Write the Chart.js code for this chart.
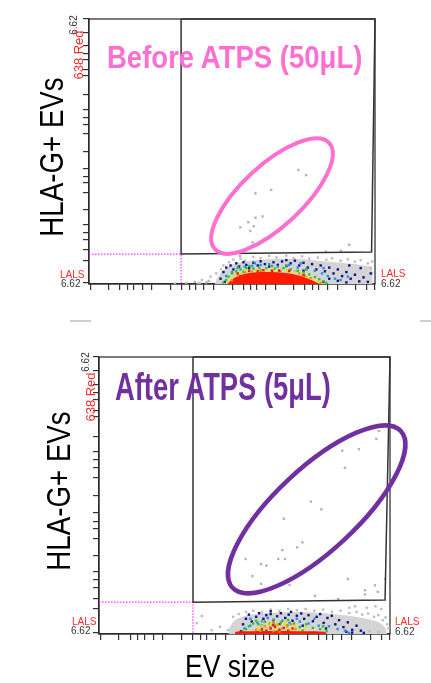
<!DOCTYPE html>
<html>
<head>
<meta charset="utf-8">
<script src="https://cdn.jsdelivr.net/npm/chart.js@4.4.1/dist/chart.umd.min.js"></script>
<style>
  body { margin: 0; background: #fff; }
  #page { position: relative; width: 431px; height: 683px; overflow: hidden; background: #fff; }
  canvas { position: absolute; left: 0; }
  .lbl { position: absolute; white-space: nowrap; line-height: 1; font-family: 'Liberation Sans', Arial, sans-serif; }
  .rot { transform: translate(-50%, -50%) rotate(-90deg); }
  .ytitle { font-size: 33px; color: #000; transform: translate(-50%, -50%) rotate(-90deg) scaleX(0.84); }
  .title { font-weight: bold; transform-origin: left top; }
  .red { color: #ff2a2a; }
  .dark { color: #333; }
  .rule { position: absolute; height: 2px; background: #cfcfcf; }
</style>
</head>
<body>
<div id="page">
  <canvas id="top-chart" width="431" height="310" style="top:0px"></canvas>
  <canvas id="bottom-chart" width="431" height="353" style="top:330px"></canvas>

  <!-- top panel text -->
  <div class="lbl title" style="left:107px; top:41px; font-size:32px; color:#ff6fd0; transform:scaleX(0.86);">Before ATPS (50μL)</div>
  <div class="lbl ytitle" style="left:51px; top:157px;">HLA-G+ EVs</div>
  <div class="lbl rot dark" style="left:74px; top:25px; font-size:10px;">6.62</div>
  <div class="lbl rot red" style="left:78px; top:55px; font-size:13px;">638 Red</div>
  <div class="lbl red" style="left:60px; top:270px; font-size:10px;">LALS</div>
  <div class="lbl dark" style="left:61px; top:279px; font-size:10px;">6.62</div>
  <div class="lbl red" style="left:381px; top:269px; font-size:10px;">LALS</div>
  <div class="lbl dark" style="left:381px; top:279px; font-size:10px;">6.62</div>

  <div class="rule" style="left:70px; top:320px; width:21px;"></div>
  <div class="rule" style="left:420px; top:320px; width:11px;"></div>

  <!-- bottom panel text -->
  <div class="lbl title" style="left:115px; top:368px; font-size:38px; color:#7030a0; transform:scaleX(0.72);">After ATPS (5μL)</div>
  <div class="lbl ytitle" style="left:58px; top:491px;">HLA-G+ EVs</div>
  <div class="lbl rot dark" style="left:86px; top:362px; font-size:10px;">6.62</div>
  <div class="lbl rot red" style="left:90px; top:397px; font-size:13px;">638 Red</div>
  <div class="lbl red" style="left:72px; top:617px; font-size:10px;">LALS</div>
  <div class="lbl dark" style="left:71px; top:626px; font-size:10px;">6.62</div>
  <div class="lbl red" style="left:395px; top:617px; font-size:10px;">LALS</div>
  <div class="lbl dark" style="left:395px; top:627px; font-size:10px;">6.62</div>
  <div class="lbl" style="left:230px; top:650px; font-size:32px; color:#000; transform:translateX(-50%) scaleX(0.83);">EV size</div>
</div>

<script>
// axis tick positions (instrument channel units, 0-1000 on both axes)
const xTicks = [4, 69, 107, 134, 155, 186, 220, 285, 323, 350, 371, 402, 436, 501, 539, 566, 587, 618, 652, 717, 755, 782, 803, 834, 868, 933, 971, 998];
const yTicks = [5, 90, 128, 166, 195, 224, 282, 345, 381, 405, 437, 500, 566, 600, 628, 657, 713, 785, 808, 845, 870, 900, 950, 1000];

// ---- BEFORE ATPS (50uL) ----
const topGate = [[322, 1000], [322, 113], [988, 121], [1000, 1000], [322, 1000]];
const topThreshold = [[0, 113], [322, 113], [322, 0]];
const topEllipseCenter = [640, 332];
const topSparse = [[732, 430], [759, 411], [582, 342], [637, 355], [582, 250], [607, 255], [557, 233], [576, 218], [529, 214], [564, 200], [572, 157], [828, 122], [881, 125], [910, 148], [528, 106]];
const topGrayCloud = [[440, 0], [450, 25], [468, 50], [490, 68], [520, 80], [560, 88], [620, 92], [680, 95], [740, 93], [800, 88], [860, 82], [920, 76], [960, 70], [992, 62], [992, 0]];
const topGray = [[300, 2], [340, 4], [370, 8], [380, 3], [388, 4], [395, 15], [410, 6], [413, 8], [420, 12], [425, 28], [445, 40], [462, 55], [470, 70], [490, 82], [505, 92], [530, 96], [545, 88], [575, 102], [600, 98], [630, 106], [655, 100], [690, 107], [715, 98], [745, 104], [770, 96], [800, 100], [830, 92], [850, 97], [880, 88], [905, 93], [930, 84], [950, 90], [975, 78], [990, 85], [985, 60], [990, 40]];
const topNavy = [[460, 20], [470, 45], [480, 62], [495, 70], [505, 55], [515, 78], [525, 66], [540, 82], [550, 72], [560, 60], [575, 80], [590, 70], [600, 86], [615, 75], [630, 66], [645, 82], [660, 72], [675, 85], [690, 68], [705, 78], [720, 88], [735, 70], [750, 80], [765, 62], [780, 75], [795, 55], [810, 70], [825, 48], [840, 62], [855, 40], [870, 55], [885, 30], [900, 45], [915, 20], [930, 35], [945, 10], [960, 25], [975, 8], [985, 40], [870, 12], [900, 6], [840, 20], [820, 8], [750, 50], [690, 90], [530, 30], [475, 8], [950, 60], [910, 70]];
const topBlue = [[480, 30], [500, 45], [520, 60], [545, 65], [570, 68], [600, 72], [630, 75], [660, 66], [700, 72], [730, 62], [760, 55], [790, 50], [815, 40], [835, 30], [860, 20], [880, 15], [905, 28], [820, 60], [580, 78], [740, 78]];
const topGreen = [[470, 5], [480, 15], [488, 28], [500, 40], [515, 48], [530, 55], [550, 60], [575, 58], [595, 62], [620, 60], [650, 58], [680, 60], [705, 55], [730, 50], [750, 44], [770, 36], [790, 26], [805, 18], [820, 10], [830, 4], [520, 64], [640, 68], [690, 70], [760, 56], [560, 68], [600, 52], [665, 52], [720, 46], [540, 46]];
const topYellow = [[485, 8], [495, 22], [510, 30], [530, 40], [555, 48], [585, 52], [615, 54], [655, 53], [690, 50], [720, 44], [745, 38], [765, 28], [785, 18], [800, 8], [630, 48], [700, 44]];
const topOrange = [[500, 14], [520, 34], [545, 44], [600, 50], [640, 52], [700, 48], [735, 40], [775, 22], [810, 4], [570, 46], [670, 47], [755, 30]];
const topRedCloud = [[484, 0], [497, 14], [514, 26], [537, 36], [567, 42], [610, 45], [660, 44], [700, 40], [730, 33], [757, 24], [780, 14], [798, 5], [808, 0]];
const topRed = [[560, 50], [610, 52], [665, 50], [700, 50], [520, 40], [750, 34], [590, 48], [640, 49]];

// ---- AFTER ATPS (5uL) ----
const botGate = [[323, 1000], [323, 115], [983, 123], [1000, 1000], [323, 1000]];
const botThreshold = [[0, 115], [323, 115], [323, 0]];
const botEllipseCenter = [748, 450];
const botSparse = [[962, 733], [953, 704], [836, 662], [893, 667], [845, 600], [728, 478], [764, 450], [635, 416], [699, 331], [681, 313], [630, 303], [504, 271], [616, 271], [639, 271], [557, 252], [575, 247], [527, 209], [557, 181], [655, 177], [855, 199], [948, 176], [914, 158], [958, 152], [914, 143], [742, 138], [822, 126], [983, 199]];
const botGrayCloud = [[445, 0], [450, 25], [470, 52], [500, 65], [540, 72], [600, 77], [680, 79], [750, 77], [820, 70], [880, 62], [930, 52], [965, 40], [985, 20], [990, 0]];
const botGray = [[336, 39], [353, 65], [387, 14], [416, 26], [443, 14], [461, 62], [480, 72], [505, 80], [530, 84], [560, 78], [590, 88], [620, 84], [650, 90], [680, 86], [710, 90], [740, 84], [770, 88], [800, 80], [830, 84], [860, 76], [885, 80], [905, 70], [925, 74], [945, 62], [960, 68], [975, 50], [985, 60], [990, 35], [995, 20], [970, 90], [950, 100], [920, 95], [880, 100], [860, 95], [930, 10], [960, 8]];
const botNavy = [[488, 10], [495, 35], [505, 55], [515, 70], [525, 45], [540, 62], [550, 75], [565, 55], [575, 68], [590, 72], [600, 50], [612, 64], [625, 75], [640, 58], [652, 70], [665, 48], [680, 66], [695, 74], [705, 55], [720, 68], [735, 46], [748, 62], [760, 72], [772, 40], [785, 58], [800, 66], [812, 35], [825, 50], [840, 25], [855, 42], [870, 15], [885, 30], [870, 5], [850, 8], [700, 30], [620, 35], [560, 30], [780, 20], [900, 12], [910, 4], [660, 80], [590, 82]];
const botBlue = [[492, 5], [500, 20], [520, 30], [545, 40], [570, 45], [600, 40], [630, 48], [655, 40], [690, 45], [720, 38], [755, 30], [790, 28], [820, 18], [845, 12], [860, 4], [740, 55], [680, 55], [580, 58], [520, 55]];
const botGreen = [[495, 8], [505, 18], [515, 28], [530, 38], [548, 35], [560, 46], [585, 38], [605, 30], [625, 42], [648, 32], [670, 38], [690, 25], [712, 35], [735, 22], [760, 18], [782, 10], [770, 28], [650, 50], [600, 52], [540, 48], [700, 12], [745, 5], [560, 10], [620, 15]];
const botYellow = [[530, 8], [545, 22], [560, 30], [575, 20], [590, 35], [605, 18], [620, 28], [635, 38], [648, 22], [660, 12], [672, 28], [690, 15], [710, 22], [580, 42], [640, 45]];
const botOrange = [[540, 15], [555, 12], [570, 28], [588, 25], [600, 10], [615, 35], [630, 20], [645, 28], [660, 35], [675, 18], [600, 40], [620, 8]];
const botRedCloud = [[467, 0], [470, 8], [500, 10], [600, 11], [700, 10], [775, 8], [783, 0]];
const botRed = [[560, 18], [575, 12], [590, 20], [605, 25], [620, 15], [635, 22], [650, 12], [598, 32], [612, 8], [665, 20]];

// draws the oval gate around the positive events
const ellipsePlugin = {
    id: 'gateEllipse',
    afterDatasetsDraw(chart, args, opts) {
        const { ctx, scales } = chart;
        const cx = scales.x.getPixelForValue(opts.center[0]);
        const cy = scales.y.getPixelForValue(opts.center[1]);
        ctx.save();
        ctx.beginPath();
        ctx.ellipse(cx, cy, opts.rx, opts.ry, -opts.angle * Math.PI / 180, 0, Math.PI * 2);
        ctx.strokeStyle = opts.color;
        ctx.lineWidth = opts.width;
        ctx.stroke();
        ctx.restore();
    }
};

// box around the plot area
const framePlugin = {
    id: 'plotFrame',
    beforeDatasetsDraw(chart) {
        const { ctx, chartArea: a } = chart;
        ctx.save();
        ctx.strokeStyle = '#333';
        ctx.lineWidth = 1.3;
        ctx.strokeRect(a.left, a.top, a.right - a.left, a.bottom - a.top);
        ctx.restore();
    }
};

const dots = (data, color, order) => ({
    type: 'scatter', data, order,
    pointStyle: 'rect', pointRadius: 1.7, pointBorderWidth: 0,
    pointBackgroundColor: color, backgroundColor: color, borderColor: color
});

const area = (data, color, order) => ({
    type: 'line', data, order, fill: 'origin', tension: 0.3,
    backgroundColor: color, borderWidth: 0, pointRadius: 0
});

const line = (data, color, width, dash, order) => ({
    type: 'line', data, order, fill: false, tension: 0, clip: 4,
    borderColor: color, borderWidth: width, borderDash: dash, pointRadius: 0
});

const axis = (ticks) => ({
    type: 'linear', min: 0, max: 1000,
    afterBuildTicks: (scale) => { scale.ticks = ticks.map(v => ({ value: v })); },
    ticks: { display: false },
    grid: { drawOnChartArea: false, drawTicks: true, tickLength: 6, color: '#333', lineWidth: 1.2 },
    border: { color: '#222', width: 1.3 }
});

function drawPanel(id, p) {
    new Chart(document.getElementById(id).getContext('2d'), {
        type: 'scatter',
        data: {
            datasets: [
                line(p.gate, '#333', 1.5, [], 0),
                line(p.threshold, '#ff33ff', 1.2, [1.5, 1.5], 0),
                dots(p.sparse, '#b4b4b4', 1),
                dots(p.red, '#ff1a00', 2),
                dots(p.orange, '#ff8c00', 3),
                area(p.redCloud, '#ff1a00', 4),
                dots(p.yellow, '#e6e600', 5),
                dots(p.green, '#2cc42c', 6),
                dots(p.blue, '#2a8cf0', 7),
                dots(p.navy, '#0c1490', 8),
                dots(p.gray, '#bdbdbd', 9),
                area(p.grayCloud, '#d4d4d4', 10)
            ]
        },
        options: {
            responsive: false,
            animation: false,
            devicePixelRatio: 1,
            layout: { padding: p.pad },
            scales: { x: axis(xTicks), y: axis(yTicks) },
            plugins: {
                legend: { display: false },
                tooltip: { enabled: false },
                gateEllipse: p.ellipse
            }
        },
        plugins: [framePlugin, ellipsePlugin]
    });
}

drawPanel('top-chart', {
    gate: topGate, threshold: topThreshold, sparse: topSparse,
    grayCloud: topGrayCloud, gray: topGray, navy: topNavy, blue: topBlue,
    green: topGreen, yellow: topYellow, orange: topOrange, redCloud: topRedCloud, red: topRed,
    pad: { left: 83, right: 56, top: 19, bottom: 20 },
    ellipse: { center: topEllipseCenter, rx: 78, ry: 30.5, angle: 43, color: '#ff6fd0', width: 4 }
});

drawPanel('bottom-chart', {
    gate: botGate, threshold: botThreshold, sparse: botSparse,
    grayCloud: botGrayCloud, gray: botGray, navy: botNavy, blue: botBlue,
    green: botGreen, yellow: botYellow, orange: botOrange, redCloud: botRedCloud, red: botRed,
    pad: { left: 93, right: 41, top: 27, bottom: 43 },
    ellipse: { center: botEllipseCenter, rx: 115, ry: 41, angle: 43, color: '#7030a0', width: 4.5 }
});
</script>
</body>
</html>
